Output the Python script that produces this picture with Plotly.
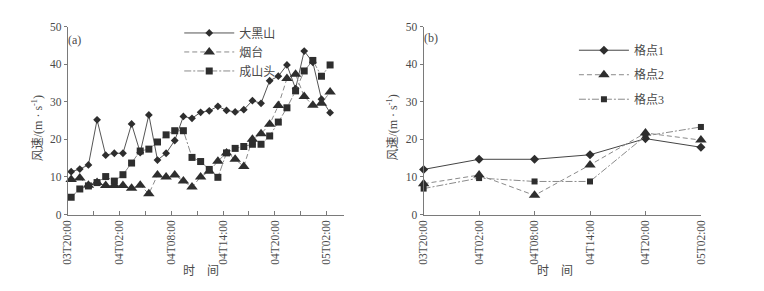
import plotly.graph_objects as go

# ---------------- data ----------------
# panel (a): hourly observations, hours since 03T20:00
hours_a = list(range(31))
dahei = [11.4, 12.1, 13.2, 25.2, 15.8, 16.3, 16.3, 24.1, 16.5, 26.5,
         14.5, 16.3, 19.7, 26.1, 25.6, 27.2, 27.6, 28.8, 27.7, 27.3,
         27.9, 30.3, 29.6, 35.6, 36.8, 39.8, 33.5, 43.5, 40.5, 30.7, 27.1]
yantai = [9.3, 9.7, 7.8, 8.5, 7.7, 7.7, 7.7, 7.0, 7.8, 5.5,
          10.5, 10.0, 10.5, 8.9, 7.3, 10.0, 11.5, 14.2, 16.4, 14.7,
          12.8, 20.0, 21.5, 24.0, 29.0, 36.2, 37.3, 31.4, 29.1, 29.6, 32.6]
chengshantou = [4.6, 6.8, 7.6, 8.5, 10.1, 8.9, 10.6, 13.7, 16.9, 17.4,
                19.3, 21.2, 22.3, 22.3, 15.2, 14.1, 12.0, 9.9, 16.4, 17.6,
                18.1, 18.7, 18.7, 20.9, 24.6, 28.4, 32.9, 38.2, 41.0, 36.8, 39.8]
obs_offset_h = 0.4  # observations plotted slightly after the hour mark

# panel (b): 6-hourly grid points
hours_b = [0, 6, 12, 18, 24, 30]
grid1 = [12.0, 14.7, 14.7, 15.9, 20.2, 17.9]
grid2 = [8.2, 10.5, 5.1, 13.2, 21.7, 19.8]
grid3 = [6.9, 9.7, 8.8, 8.8, 20.9, 23.3]

tick_hours = [0, 6, 12, 18, 24, 30]
tick_labels = ["03T20:00", "04T02:00", "04T08:00", "04T14:00", "04T20:00", "05T02:00"]
minor_step_h = 3

names_a = ["大黑山", "烟台", "成山头"]
names_b = ["格点1", "格点2", "格点3"]

# ---------------- styling ----------------
W, H = 764, 291
FONT = "Liberation Serif, 'Noto Sans CJK SC', serif"
TXT = "#4a4a4a"
AX = "#7a7a7a"

def px(v):  # horizontal pixel -> paper
    return v / W

def py(v):  # vertical pixel (from top) -> paper
    return 1 - v / H

fig = go.Figure()

xa = [h + obs_offset_h for h in hours_a]
styles = [
    dict(sym="diamond", size=6, dash="solid", lc="#555555"),
    dict(sym="triangle-up", size=10, dash="5px,3px", lc="#8a8a8a"),
    dict(sym="square", size=7, dash="7px,2px,2px,2px", lc="#8a8a8a"),
]
for i, (nm, ys) in enumerate(zip(names_a, [dahei, yantai, chengshantou])):
    s = styles[i]
    fig.add_trace(go.Scatter(
        x=xa, y=ys, name=nm, mode="lines+markers",
        line=dict(color=s["lc"], width=1, dash=s["dash"]),
        marker=dict(symbol=s["sym"], size=s["size"], color="#2e2e2e"),
        xaxis="x", yaxis="y", legend="legend", legendgroup="a%d" % i,
        cliponaxis=False))

styles_b = [
    dict(sym="diamond", size=7, dash="solid", lc="#444444"),
    dict(sym="triangle-up", size=10, dash="5px,3px", lc="#8a8a8a"),
    dict(sym="square", size=6, dash="7px,2px,2px,2px", lc="#8a8a8a"),
]
for i, (nm, ys) in enumerate(zip(names_b, [grid1, grid2, grid3])):
    s = styles_b[i]
    fig.add_trace(go.Scatter(
        x=hours_b, y=ys, name=nm, mode="lines+markers",
        line=dict(color=s["lc"], width=1, dash=s["dash"]),
        marker=dict(symbol=s["sym"], size=s["size"], color="#2e2e2e"),
        xaxis="x2", yaxis="y2", legend="legend2", legendgroup="b%d" % i,
        cliponaxis=False))

ydom = [py(217.5), py(21.5)]
xaxis_common = dict(
    showgrid=False, zeroline=False, showline=True, linecolor=AX, linewidth=1,
    ticks="inside", ticklen=4, tickcolor=AX, tickangle=-90,
    tickvals=tick_hours, ticktext=tick_labels,
    tickfont=dict(family=FONT, size=11.5, color=TXT),
)
yaxis_common = dict(
    range=[0, 50], tickvals=[0, 10, 20, 30, 40, 50],
    showgrid=False, zeroline=False, showline=True, linecolor=AX, linewidth=1,
    ticks="outside", ticklen=3, tickcolor=AX,
    tickfont=dict(family=FONT, size=11.5, color=TXT), domain=ydom,
)

fig.update_layout(
    width=W, height=H, margin=dict(l=0, r=0, t=0, b=0),
    paper_bgcolor="white", plot_bgcolor="white",
    font=dict(family=FONT, color=TXT),
    xaxis=dict(xaxis_common, domain=[px(62.7), px(343.3)], range=[0, 32],
               minor=dict(tick0=0, dtick=minor_step_h, ticks="inside", ticklen=4,
                          tickcolor=AX, showgrid=False),
               anchor="y"),
    yaxis=dict(yaxis_common, anchor="x"),
    xaxis2=dict(xaxis_common, domain=[px(424.3), px(706)], range=[0, 30],
                anchor="y2"),
    yaxis2=dict(yaxis_common, anchor="x2"),
    legend=dict(x=px(176), y=py(13), xanchor="left", yanchor="top",
                itemwidth=50, bgcolor="rgba(0,0,0,0)", tracegroupgap=0,
                font=dict(family=FONT, size=12, color=TXT), traceorder="grouped"),
    legend2=dict(x=px(577), y=py(31), xanchor="left", yanchor="top",
                 itemwidth=50, bgcolor="rgba(0,0,0,0)", tracegroupgap=5.5,
                 font=dict(family=FONT, size=12, color=TXT), traceorder="grouped"),
    showlegend=True,
)

ytitle = "风速/(m · s<sup>-1</sup>)"
ann = [
    dict(x=px(70), y=py(35), text="(a)"),
    dict(x=px(432), y=py(33), text="(b)"),
    dict(x=px(32), y=py(127), text=ytitle, textangle=-90),
    dict(x=px(393), y=py(127), text=ytitle, textangle=-90),
    dict(x=px(198), y=py(276), text="时　间"),
    dict(x=px(558), y=py(276), text="时　间"),
]
for a in ann:
    fig.add_annotation(dict(xref="paper", yref="paper", showarrow=False,
                            xanchor="center", yanchor="middle",
                            font=dict(family=FONT, size=12, color=TXT)), **a)

fig.write_html("out.html", config={"displayModeBar": False},
               post_script="document.body.style.margin='0';")
